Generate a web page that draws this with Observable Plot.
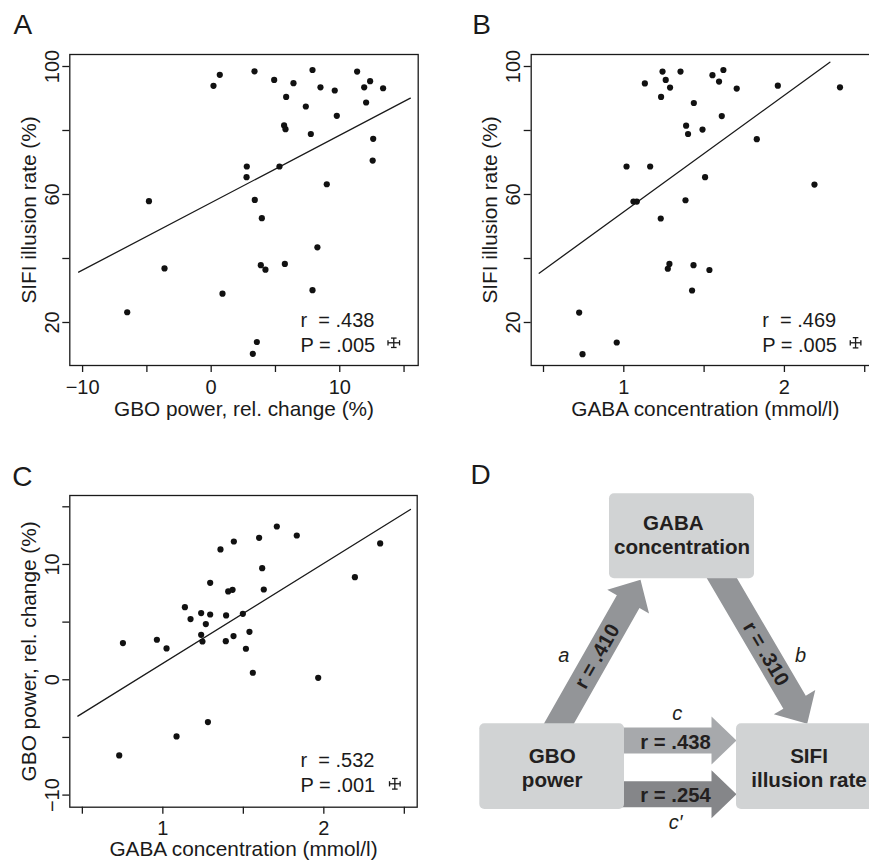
<!DOCTYPE html>
<html><head><meta charset="utf-8">
<script src="https://cdn.jsdelivr.net/npm/d3@7"></script>
<script src="https://cdn.jsdelivr.net/npm/@observablehq/plot@0.6"></script>
<style>
html,body{margin:0;padding:0;background:#fff;}
#fig{position:relative;width:869px;height:862px;overflow:hidden;background:#fff;}
#fig > svg{position:absolute;}
</style></head><body><div id="fig"></div>
<script>
// ---------- Panel A: GBO power vs SIFI illusion rate ----------
const gboA = [0.18, 0.67, 3.37, 4.9, 6.4, 5.83, 7.88, 8.5, 9.61, 7.36, 9.77, 11.35, 11.9, 12.36, 13.37, 12.05, 5.67, 5.78, 7.75, 12.6, 12.56, 2.77, 5.31, 2.75, 8.99, -4.84, 3.39, 3.94, 8.26, -3.63, 3.86, 4.22, 5.73, 0.88, 7.88, -6.53, 3.55, 3.24];
const sifiA = [93.96, 97.4, 98.5, 95.8, 94.8, 90.5, 98.9, 93.5, 92.5, 87.5, 84.6, 98.4, 93.5, 95.4, 93.2, 88.75, 81.6, 80.4, 78.9, 77.4, 70.6, 68.75, 68.75, 65.4, 63.2, 57.9, 58.3, 52.6, 43.5, 36.9, 37.9, 36.5, 38.3, 29.0, 30.1, 23.2, 13.9, 10.2];
const fitAx = [-10.31, 15.49];
const fitAy = [35.73, 90.1];
const statA = ["r\u00A0\u00A0= .438", "P = .005"];
const errA = {x: 14.2, y: 13.66, dx: 0.45, dy: 1.47};

// ---------- Panel B: GABA vs SIFI illusion rate ----------
const gabaB = [1.131, 1.241, 1.261, 1.288, 1.232, 1.353, 1.552, 1.593, 1.620, 1.703, 1.436, 1.610, 1.959, 2.346, 1.388, 1.400, 1.490, 1.828, 1.017, 1.164, 1.506, 2.187, 1.060, 1.081, 1.384, 1.230, 1.284, 1.274, 1.434, 1.533, 1.425, 0.722, 0.956, 0.743];
const sifiB = [94.7, 98.4, 95.8, 93.4, 90.5, 98.4, 97.3, 95.3, 98.9, 93.1, 88.6, 84.5, 94.0, 93.5, 81.5, 78.9, 80.3, 77.3, 68.75, 68.75, 65.4, 63.1, 57.8, 57.8, 58.2, 52.5, 38.3, 36.8, 37.9, 36.4, 30.0, 23.1, 13.75, 10.1];
const fitBx = [0.473, 2.283];
const fitBy = [35.4, 101.35];
const statB = ["r\u00A0\u00A0= .469", "P = .005"];
const errB = {x: 2.443, y: 13.66, dx: 0.033, dy: 1.6};

// ---------- Panel C: GABA vs GBO power ----------
const gabaC = [0.729, 0.752, 0.963, 1.023, 1.085, 1.137, 1.172, 1.238, 1.238, 1.246, 1.267, 1.294, 1.294, 1.280, 1.358, 1.393, 1.391, 1.406, 1.433, 1.441, 1.439, 1.497, 1.516, 1.538, 1.559, 1.598, 1.617, 1.627, 1.708, 1.832, 1.965, 2.193, 2.350];
const gboC = [-6.56, 3.18, 3.47, 2.72, -4.91, 6.30, 5.26, 5.78, 3.90, 3.32, 4.83, 5.66, 8.41, -3.67, 11.30, 5.58, 3.35, 7.66, 7.80, 11.99, 3.79, 5.72, 2.69, 4.16, 0.61, 12.31, 9.68, 7.83, 13.29, 12.51, 0.17, 8.90, 11.82];
const fitCx = [0.472, 2.538];
const fitCy = [-3.15, 14.77];
const statC = ["r\u00A0\u00A0= .532", "P = .001"];
const errC = {x: 2.441, y: -9.02, dx: 0.033, dy: 0.46};

// ---------- Axis ticks ----------
const ticksGBO = [-10, -5, 0, 5, 10, 15];
const labelsGBO = [-10, 0, 10];
const ticksSIFI = [20, 40, 60, 80, 100];
const labelsSIFI = [20, 60, 100];
const ticksGABA = [0.5, 1, 1.5, 2, 2.5];
const labelsGABA = [1, 2];
const ticksGBOy = [-10, -5, 0, 5, 10, 15];
const labelsGBOy = [-10, 0, 10];

// ---------- Panel D: mediation diagram ----------
const nodeNames = ["GABA\u00A0\u00A0\u00A0\nconcentration", "GBO\npower", "SIFI\nillusion rate"];
const pathNames = ["a", "b", "c", "c\u2032"];
const pathR = [".410", ".310", ".438", ".254"];

const INK = "#1a1a1a";
const FONT = "'Liberation Sans', Arial, Helvetica, sans-serif";
const fmt = d => d < 0 ? "\u2212" + (-d) : String(d);

const hCap = {draw(ctx, size) { const r = Math.sqrt(size / Math.PI); ctx.moveTo(-r, 0); ctx.lineTo(r, 0); }};
const vCap = {draw(ctx, size) { const r = Math.sqrt(size / Math.PI); ctx.moveTo(0, -r); ctx.lineTo(0, r); }};

function scatter(o) {
  const pts = o.xs.map((x, i) => ({x, y: o.ys[i]}));
  const fit = o.fx.map((x, i) => ({x, y: o.fy[i]}));
  const e = o.err;
  const hb = [{x1: e.x - e.dx, x2: e.x + e.dx, y1: e.y, y2: e.y}];
  const vb = [{x1: e.x, x2: e.x, y1: e.y - e.dy, y2: e.y + e.dy}];
  const hEnds = [{x: e.x - e.dx, y: e.y}, {x: e.x + e.dx, y: e.y}];
  const vEnds = [{x: e.x, y: e.y - e.dy}, {x: e.x, y: e.y + e.dy}];
  const svg = Plot.plot({
    width: o.width, height: o.height,
    marginLeft: o.ml, marginRight: o.mr, marginTop: o.mt, marginBottom: o.mb,
    x: {domain: o.xDomain},
    y: {domain: o.yDomain},
    style: {fontFamily: FONT, fontSize: "20px", color: INK, background: "transparent", overflow: "visible"},
    marks: [
      Plot.axisX({ticks: o.xTicks, tickFormat: d => o.xLabels.includes(d) ? fmt(d) : "", tickSize: 7, tickPadding: 7, strokeWidth: 1.3, label: null}),
      Plot.axisY({ticks: o.yTicks, tickFormat: d => o.yLabels.includes(d) ? fmt(d) : "", tickSize: 7, tickPadding: 4, tickRotate: -90, strokeWidth: 1.3, label: null}),
      Plot.frame({stroke: INK, strokeWidth: 1.3}),
      Plot.line(fit, {x: "x", y: "y", stroke: INK, strokeWidth: 1.3}),
      Plot.dot(pts, {x: "x", y: "y", r: 3.1, fill: "#111", stroke: "none"}),
      Plot.link(hb, {x1: "x1", x2: "x2", y1: "y1", y2: "y2", stroke: INK, strokeWidth: 1.3}),
      Plot.link(vb, {x1: "x1", x2: "x2", y1: "y1", y2: "y2", stroke: INK, strokeWidth: 1.3}),
      Plot.dot(hEnds, {x: "x", y: "y", symbol: vCap, r: 2.6, stroke: INK, strokeWidth: 1.3, fill: "none"}),
      Plot.dot(vEnds, {x: "x", y: "y", symbol: hCap, r: 2.8, stroke: INK, strokeWidth: 1.3, fill: "none"}),
      Plot.text([o.stat.join("\n")], {text: d => d, frameAnchor: "bottom-left", dx: o.statDx, dy: o.statDy, lineAnchor: "bottom", textAnchor: "start", lineHeight: 1.25, fontSize: 20, fill: INK}),
      Plot.text([o.xTitle], {text: d => d, frameAnchor: "bottom", dy: o.xTitleDy, lineAnchor: "bottom", textAnchor: "middle", fontSize: 20.8, fill: INK}),
      Plot.text([o.yTitle], {text: d => d, frameAnchor: "left", dx: -o.yTitleDx, rotate: -90, lineAnchor: "bottom", textAnchor: "middle", fontSize: 20.8, fill: INK}),
      Plot.text([o.letter], {text: d => d, frameAnchor: "top-left", dx: o.letterDx, dy: o.letterDy, lineAnchor: "bottom", textAnchor: "start", fontSize: 28, fill: INK})
    ]
  });
  svg.style.left = o.left + "px";
  svg.style.top = o.top + "px";
  return svg;
}

const fig = document.getElementById("fig");

fig.appendChild(scatter({
  left: 0, top: 0, width: 440, height: 420, ml: 69.3, mr: 22.3, mt: 54, mb: 55,
  xs: gboA, ys: sifiA, fx: fitAx, fy: fitAy, err: errA, stat: statA,
  xDomain: [-10.995, 16.1], yDomain: [6.56, 103.75],
  xTicks: ticksGBO, xLabels: labelsGBO, yTicks: ticksSIFI, yLabels: labelsSIFI,
  xTitle: "GBO power, rel. change (%)", yTitle: "SIFI illusion rate (%)",
  statDx: 230.7, statDy: -13.3, xTitleDy: 50, yTitleDx: 33.5,
  letter: "A", letterDx: -56.3, letterDy: -21
}));

fig.appendChild(scatter({
  left: 440, top: 0, width: 460, height: 420, ml: 90.7, mr: 21, mt: 54, mb: 55,
  xs: gabaB, ys: sifiB, fx: fitBx, fy: fitBy, err: errB, stat: statB,
  xDomain: [0.4234, 2.592], yDomain: [6.56, 103.75],
  xTicks: ticksGABA, xLabels: labelsGABA, yTicks: ticksSIFI, yLabels: labelsSIFI,
  xTitle: "GABA concentration (mmol/l)", yTitle: "SIFI illusion rate (%)",
  statDx: 231, statDy: -13.3, xTitleDy: 50, yTitleDx: 34,
  letter: "B", letterDx: -59, letterDy: -21
}));

fig.appendChild(scatter({
  left: 0, top: 420, width: 440, height: 442, ml: 69.3, mr: 23.3, mt: 75, mb: 55.3,
  xs: gabaC, ys: gboC, fx: fitCx, fy: fitCy, err: errC, stat: statC,
  xDomain: [0.422, 2.58], yDomain: [-11.05, 15.98],
  xTicks: ticksGABA, xLabels: labelsGABA, yTicks: ticksGBOy, yLabels: labelsGBOy,
  xTitle: "GABA concentration (mmol/l)", yTitle: "GBO power, rel. change (%)",
  statDx: 230.7, statDy: -15, xTitleDy: 49, yTitleDx: 33.5,
  letter: "C", letterDx: -57.6, letterDy: -10
}));

// ---------- Panel D layout (diagram units = px inside panel) ----------
const layout = {
  boxes: [
    {x1: 169, x2: 314, y1: 73.3, y2: 158.3, tx: 241.5, ty: 133, lh: 1.12},
    {x1: 39.3, x2: 184, y1: 303.3, y2: 389, tx: 111.7, ty: 366.7, lh: 1.17},
    {x1: 296, x2: 441, y1: 303.3, y2: 389, tx: 368.5, ty: 366.7, lh: 1.17}
  ],
  arrows: [
    {tail: [118.3, 303.3], tip: [200, 159.3], back: 12, fill: "#939598"},
    {tail: [281.7, 158.3], tip: [366.7, 303.3], back: 12, fill: "#939598"},
    {tail: [184, 320], tip: [296, 320], back: 10, fill: "#a7a9ac"},
    {tail: [184, 373.8], tip: [296, 373.8], back: 10, fill: "#858689"}
  ],
  shaftW: 26, headW: 48, headL: 25,
  rText: [
    {x: 156.7, y: 236, rotate: -60.4, anchor: "middle"},
    {x: 325.5, y: 233.3, rotate: 59.6, anchor: "middle"},
    {x: 235, y: 328, rotate: 0, anchor: "bottom"},
    {x: 235, y: 381, rotate: 0, anchor: "bottom"}
  ],
  pathText: [{x: 123.3, y: 235}, {x: 360, y: 235}, {x: 236.7, y: 293.3}, {x: 235, y: 401.7}],
  letter: {x: 30, y: 63}
};

function arrowPoly(a, shaftW, headW, headL) {
  const [tx, ty] = a.tail, [hx, hy] = a.tip;
  const L = Math.hypot(hx - tx, hy - ty);
  const ux = (hx - tx) / L, uy = (hy - ty) / L, px = -uy, py = ux;
  const sx = tx - ux * a.back, sy = ty - uy * a.back;
  const bx = hx - ux * headL, by = hy - uy * headL;
  const s = shaftW / 2, w = headW / 2;
  return [
    [sx + px * s, sy + py * s], [bx + px * s, by + py * s], [bx + px * w, by + py * w], [hx, hy],
    [bx - px * w, by - py * w], [bx - px * s, by - py * s], [sx - px * s, sy - py * s]
  ].map(([x, y]) => ({x, y}));
}

const dMarks = [];
layout.arrows.forEach(a => {
  dMarks.push(Plot.line(arrowPoly(a, layout.shaftW, layout.headW, layout.headL), {x: "x", y: "y", fill: a.fill, stroke: "none", curve: "linear-closed"}));
});
const boxData = layout.boxes.map((b, i) => ({...b, name: nodeNames[i]}));
dMarks.push(Plot.rect(boxData, {x1: "x1", x2: "x2", y1: "y1", y2: "y2", fill: "#d1d3d4", rx: 5}));
boxData.forEach(b => {
  dMarks.push(Plot.text([b], {x: "tx", y: "ty", text: "name", lineAnchor: "bottom", lineHeight: b.lh, fontWeight: "bold", fontSize: 20.6, fill: "#231f20"}));
});
layout.rText.forEach((t, i) => {
  dMarks.push(Plot.text([{...t, label: "r = " + pathR[i]}], {x: "x", y: "y", text: "label", rotate: t.rotate, lineAnchor: t.anchor, fontWeight: "bold", fontSize: 20.3, fill: "#231f20"}));
});
const pathData = layout.pathText.map((p, i) => ({...p, label: pathNames[i]}));
dMarks.push(Plot.text(pathData, {x: "x", y: "y", text: "label", lineAnchor: "middle", fontStyle: "italic", fontSize: 20, fill: "#231f20"}));
dMarks.push(Plot.text([{...layout.letter, label: "D"}], {x: "x", y: "y", text: "label", textAnchor: "start", lineAnchor: "bottom", fontSize: 28, fill: INK}));

const svgD = Plot.plot({
  width: 429, height: 442, margin: 0,
  x: {domain: [0, 429], range: [0, 429], axis: null},
  y: {domain: [0, 442], range: [0, 442], axis: null},
  style: {fontFamily: FONT, fontSize: "20px", color: INK, background: "transparent"},
  marks: dMarks
});
svgD.style.left = "440px";
svgD.style.top = "420px";
fig.appendChild(svgD);
</script>
</body></html>
